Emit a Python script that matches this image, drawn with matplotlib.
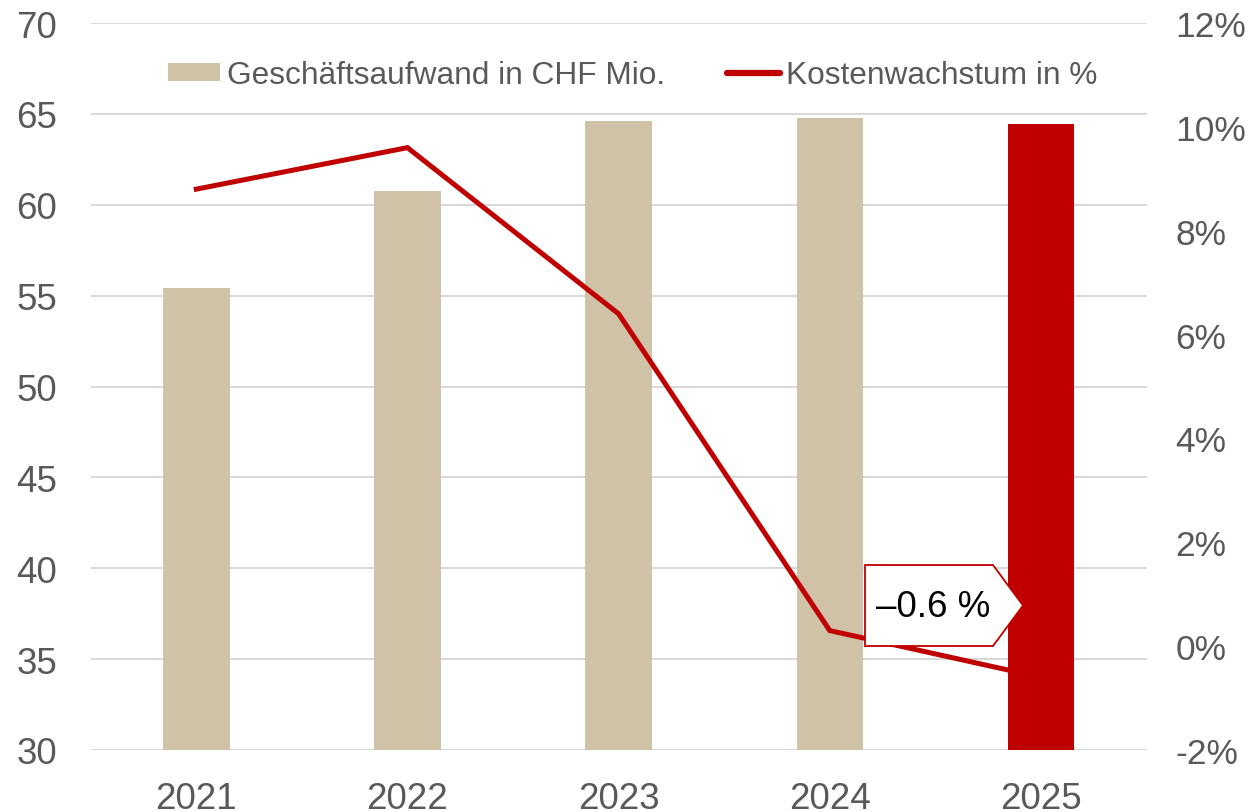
import matplotlib
matplotlib.use("Agg")
import matplotlib.pyplot as plt
from matplotlib.patches import Polygon
from matplotlib.lines import Line2D
from matplotlib.patches import Patch

plt.rcParams['font.family'] = ['Liberation Sans', 'DejaVu Sans']

years = ["2021", "2022", "2023", "2024", "2025"]
aufwand = [55.4, 60.75, 64.6, 64.8, 64.45]
wachstum = [8.8, 9.6, 6.4, 0.3, -0.6]
label_text = "\u20130.6 %"

tan = "#D0C2A6"
red = "#C00000"
gray = "#595959"
grid = "#D9D9D9"

fig = plt.figure(figsize=(12.48, 8.12), dpi=100)
ax = fig.add_axes([90.7/1248, 61/812, (1146.5-90.7)/1248, (751-24)/812])
ax2 = ax.twinx()

x = list(range(len(years)))
colors = [tan]*(len(years)-1) + [red]

ax.bar(x, aufwand, width=0.315, color=colors, zorder=2)
# line drawn in ax (above bars) using ax2's data transform
ax.plot(x, wachstum, color=red, lw=3.6, transform=ax2.transData, zorder=3,
        solid_joinstyle='miter')
ax.set_ylim(30, 70)
ax.set_xlim(-0.5, len(years)-0.5)
ax2.set_ylim(-2, 12)

ax.set_axisbelow(True)
ax.yaxis.grid(True, color=grid, lw=1.5)
ax.set_yticks(range(30, 71, 5))
ax.set_xticks(x)
ax.set_xticklabels(years)
ax2.set_yticks(range(-2, 13, 2))
ax2.set_yticklabels([f"{v}%" for v in range(-2, 13, 2)])

for a in (ax, ax2):
    for s in a.spines.values():
        s.set_visible(False)
ax.tick_params(axis='both', length=0, labelsize=26.5, colors=gray)
ax.tick_params(axis='y', pad=24)
ax.tick_params(axis='x', pad=22)
ax2.tick_params(axis='y', length=0, labelsize=25.5, colors=gray, pad=21)

handles = [Patch(facecolor=tan, edgecolor='none'),
           Line2D([0], [0], color=red, lw=4.5, solid_capstyle='round')]
leg = fig.legend(handles, ["Geschäftsaufwand in CHF Mio.", "Kostenwachstum in %"],
                 loc='center', bbox_to_anchor=(((166 + 1100) / 2) / 1248, 1 - 76/812),
                 ncol=2, frameon=False,
                 fontsize=22.8, labelcolor=gray, handlelength=1.65, handleheight=0.5,
                 handletextpad=0.22, columnspacing=1.95, borderpad=0, borderaxespad=0)

# callout label
W, H = 1248, 812
pts = [(865, 566), (993, 566), (1023, 606.5), (993, 647), (865, 647)]
poly = Polygon([(px/W, 1 - py/H) for px, py in pts], closed=True,
               transform=fig.transFigure, facecolor='white', edgecolor=red,
               lw=1.3, zorder=10)
fig.add_artist(poly)
fig.text(933/W, 1 - 608/H, label_text, ha='center', va='center', fontsize=26.5,
         color='black', zorder=11)

fig.savefig("out.png", dpi=100)
